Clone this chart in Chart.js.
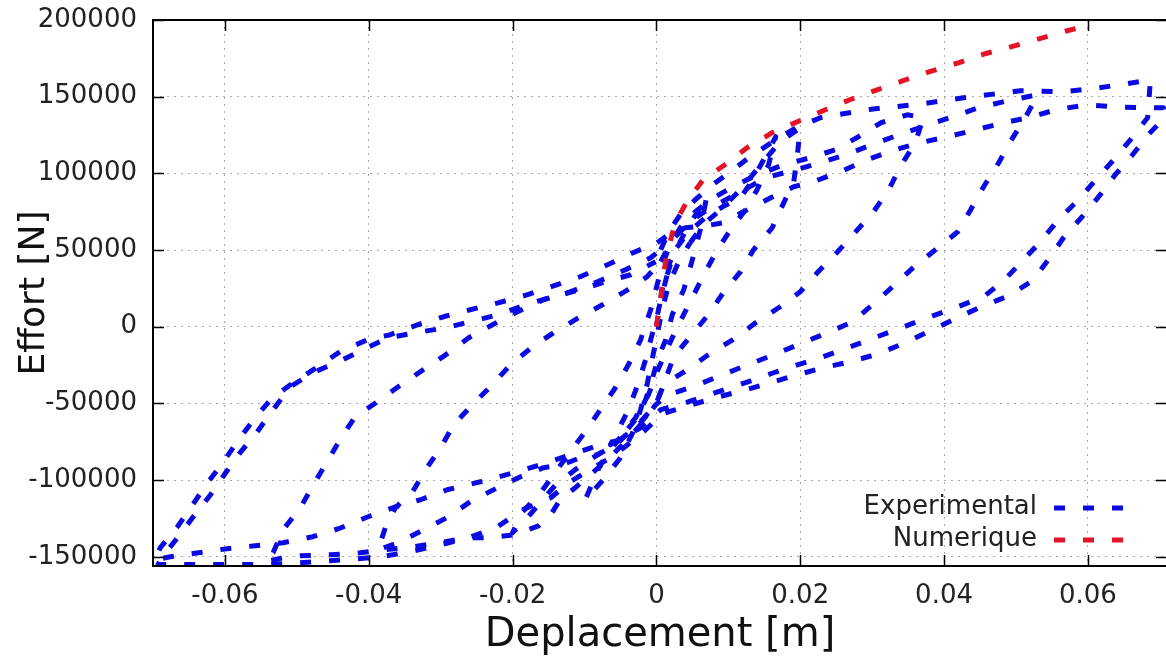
<!DOCTYPE html>
<html>
<head>
<meta charset="utf-8">
<script src="https://cdn.jsdelivr.net/npm/chart.js@4.4.1/dist/chart.umd.min.js"></script>
<style>
  html, body { margin: 0; padding: 0; background: #fff; overflow: hidden; }
  #wrap { position: absolute; left: 0; top: 0; width: 1172px; height: 657px; }
</style>
</head>
<body>
<div id="wrap"><canvas id="chart"></canvas></div>
<script>
// axis ticks
const xTicks = [-0.06, -0.04, -0.02, 0, 0.02, 0.04, 0.06];
const yTicks = [-150000, -100000, -50000, 0, 50000, 100000, 150000, 200000];
const seriesNames = ['Experimental', 'Numerique'];

// numerical model curve [deplacement m, effort N]
const numerique = [[0,0],[0.0006,18900],[0.0010,35200],[0.0017,51500],[0.0026,67800],[0.0044,82800],[0.0065,95800],[0.0099,106900],[0.0126,116700],[0.0161,126500],[0.0196,133700],[0.0235,141500],[0.0269,148000],[0.0307,154500],[0.0343,160400],[0.0380,166300],[0.0420,172100],[0.0457,178000],[0.0494,182600],[0.0533,187800],[0.0571,193000],[0.0593,195600]];

// experimental cycles, growing amplitude
const cycle1 = [[0,0],[0.0008,24100],[0.0019,42400],[0.0038,60000],[0.0057,75000],[0.0070,84800],[0.0061,63200],[0.0050,43700],[0.0038,24100],[0.0022,7800],[0.0013,-8500],[0.0003,-19600],[-0.0006,-34400],[-0.0015,-47600],[-0.0029,-60600],[-0.0050,-72400],[-0.0064,-76900],[-0.0053,-67200],[-0.0039,-54100],[-0.0026,-37800],[-0.0015,-21500],[-0.0008,-8500],[0,4600],[0.0006,17600],[0.0015,33900]];
const cycle2 = [[0.0015,33900],[0.0026,50200],[0.0045,61900],[0.0068,71100],[0.0092,78200],[0.0117,84100],[0.0134,95800],[0.0149,108900],[0.0166,123900],[0.0156,105600],[0.0140,89300],[0.0124,76300],[0.0103,63200],[0.0085,50200],[0.0068,35900],[0.0054,22800],[0.0040,9800],[0.0026,-3300],[0.0013,-16300],[0.0001,-29300],[-0.0011,-44300],[-0.0029,-59300],[-0.0053,-73700],[-0.0078,-90000],[-0.0099,-112800],[-0.0074,-99800],[-0.0050,-85400],[-0.0033,-69100],[-0.0022,-54100],[-0.0013,-37800],[-0.0006,-21500],[0.0001,-5200],[0.0008,11100],[0.0017,27400],[0.0031,42400],[0.0047,54800]];
const cycle3 = [[0.0047,54800],[0.0065,66500],[0.0089,76300],[0.0117,89300],[0.0145,105600],[0.0172,120600],[0.0200,129700],[0.0196,112100],[0.0191,94500],[0.0177,80800],[0.0161,64500],[0.0135,50200],[0.0117,35900],[0.0093,22200],[0.0072,7800],[0.0047,-6500],[0.0024,-19600],[0.0010,-37800],[-0.0001,-50900],[-0.0022,-62600],[-0.0050,-73700],[-0.0082,-83500],[-0.0113,-93200],[-0.0140,-103000],[-0.0164,-116100],[-0.0182,-125800],[-0.0200,-134300],[-0.0186,-120600],[-0.0161,-108200],[-0.0140,-94500],[-0.0120,-81500],[-0.0099,-68500],[-0.0078,-54100],[-0.0057,-39800],[-0.0039,-24800],[-0.0022,-8500],[-0.0008,11100],[0.0001,27400],[0.0010,42400]];
const cycle4 = [[0.0010,42400],[0.0019,53500],[0.0033,64500],[0.0054,75000],[0.0075,82800],[0.0099,89300],[0.0134,97800],[0.0177,105600],[0.0214,110200],[0.0249,115400],[0.0281,123900],[0.0312,133000],[0.0349,138200],[0.0371,136300],[0.0360,120000],[0.0339,104300],[0.0323,89300],[0.0302,75000],[0.0277,61900],[0.0252,48900],[0.0225,35900],[0.0200,22800],[0.0170,12400],[0.0138,2600],[0.0106,-8500],[0.0072,-18300],[0.0043,-28000],[0.0010,-37800],[-0.0001,-50900],[-0.0026,-63900],[-0.0057,-76900],[-0.0082,-83500],[-0.0106,-85400],[-0.0131,-90000],[-0.0157,-91900],[-0.0189,-97800],[-0.0221,-105000],[-0.0259,-114100],[-0.0289,-123900],[-0.0324,-132400],[-0.0359,-140800],[-0.0387,-145400],[-0.0377,-131100],[-0.0363,-118000],[-0.0339,-107600],[-0.0321,-93200],[-0.0300,-78900],[-0.0282,-63900],[-0.0256,-50900],[-0.0228,-37800],[-0.0203,-24800],[-0.0172,-13000],[-0.0143,-3900],[-0.0108,5900],[-0.0075,14300],[-0.0040,24100],[-0.0013,32600],[0.0006,42400]];
const cycle5 = [[0.0006,42400],[0.0022,56700],[0.0047,68500],[0.0075,77600],[0.0110,86100],[0.0152,97200],[0.0194,102400],[0.0228,106900],[0.0263,112100],[0.0300,118700],[0.0337,125200],[0.0374,131000],[0.0412,136900],[0.0448,142800],[0.0488,147300],[0.0530,151300],[0.0513,136300],[0.0492,120600],[0.0476,106900],[0.0455,91300],[0.0437,76300],[0.0419,61900],[0.0388,50200],[0.0357,38500],[0.0330,26700],[0.0302,15000],[0.0273,3300],[0.0238,-3900],[0.0200,-11100],[0.0163,-18300],[0.0127,-24800],[0.0092,-31300],[0.0054,-38500],[0.0017,-44300],[-0.0001,-50900],[-0.0022,-63900],[-0.0047,-76900],[-0.0071,-88000],[-0.0092,-96500],[-0.0113,-105000],[-0.0134,-112800],[-0.0147,-122600],[-0.0164,-129800],[-0.0196,-135600],[-0.0235,-137600],[-0.0263,-137600],[-0.0300,-140800],[-0.0338,-143400],[-0.0377,-145400],[-0.0412,-147400],[-0.0453,-148700],[-0.0495,-149300],[-0.0519,-150600],[-0.0544,-153200],[-0.0533,-147400],[-0.0519,-132400],[-0.0495,-118000],[-0.0477,-103000],[-0.0458,-88000],[-0.0440,-73700],[-0.0419,-58700],[-0.0388,-48900],[-0.0359,-39100],[-0.0324,-28000],[-0.0293,-18300],[-0.0261,-7200],[-0.0228,1300],[-0.0196,9100],[-0.0157,17600],[-0.0120,22800],[-0.0082,29300],[-0.0043,37200],[-0.0008,45000],[0.0006,50200]];
const cycle6 = [[0.0006,50200],[0.0017,61900],[0.0033,73000],[0.0054,82800],[0.0078,92600],[0.0103,101100],[0.0134,112100],[0.0166,121900],[0.0194,129700],[0.0228,136300],[0.0293,141500],[0.0370,145400],[0.0427,149300],[0.0506,153900],[0.0566,153200],[0.0606,155200],[0.0645,157800],[0.0687,161000],[0.0683,136300],[0.0659,121900],[0.0636,108900],[0.0611,95800],[0.0587,82800],[0.0559,69800],[0.0534,55400],[0.0509,43000],[0.0483,30000],[0.0455,19600],[0.0419,13000],[0.0381,6500],[0.0344,0],[0.0307,-6500],[0.0270,-13000],[0.0232,-19600],[0.0196,-24800],[0.0163,-30000],[0.0124,-36500],[0.0082,-43000],[0.0045,-48900],[0.0006,-54100],[-0.0022,-65900],[-0.0050,-73700],[-0.0082,-77600],[-0.0120,-83500],[-0.0161,-90000],[-0.0203,-95800],[-0.0245,-101100],[-0.0291,-106300],[-0.0328,-112800],[-0.0363,-117400],[-0.0401,-123900],[-0.0442,-131700],[-0.0478,-136900],[-0.0519,-140800],[-0.0558,-142800],[-0.0597,-144700],[-0.0637,-147400],[-0.0676,-150000],[-0.0697,-151900],[-0.0690,-144100],[-0.0666,-130400],[-0.0645,-116100],[-0.0624,-101700],[-0.0602,-88000],[-0.0581,-73700],[-0.0558,-59300],[-0.0534,-46300],[-0.0505,-36500],[-0.0477,-28000],[-0.0440,-16300],[-0.0402,-8500],[-0.0370,-5200],[-0.0332,1300],[-0.0296,6500],[-0.0259,11100],[-0.0220,15600],[-0.0179,20900],[-0.0143,26700],[-0.0106,32600],[-0.0068,40400],[-0.0033,48200],[0.0001,54800]];
const cycle7 = [[0.0001,54800],[0.0017,60000],[0.0040,64500],[0.0068,65800],[0.0093,67800],[0.0121,75000],[0.0159,84100],[0.0191,91300],[0.0218,94500],[0.0256,101100],[0.0293,108900],[0.0332,115400],[0.0367,120000],[0.0405,123900],[0.0444,128400],[0.0483,133000],[0.0523,136900],[0.0555,141500],[0.0599,144700],[0.0638,143400],[0.0677,142800],[0.0705,142800],[0.0701,133700],[0.0684,125200],[0.0662,112100],[0.0638,99100],[0.0615,84800],[0.0592,71700],[0.0566,58000],[0.0545,43700],[0.0523,30000],[0.0490,20200],[0.0451,13000],[0.0419,5900],[0.0381,-2600],[0.0346,-10400],[0.0309,-17600],[0.0270,-22800],[0.0232,-26700],[0.0196,-31300],[0.0163,-35900],[0.0124,-41100],[0.0082,-46300],[0.0045,-51500],[0.0008,-56700],[-0.0015,-67200],[-0.0040,-76900],[-0.0064,-85400],[-0.0092,-93200],[-0.0120,-101100],[-0.0147,-111500],[-0.0186,-119300],[-0.0221,-130400],[-0.0261,-137600],[-0.0300,-142100],[-0.0342,-146700],[-0.0384,-150000],[-0.0433,-151900],[-0.0474,-153200],[-0.0516,-154500],[-0.0558,-155000],[-0.0606,-155000],[-0.0662,-155000],[-0.0693,-155000],[-0.0687,-150000],[-0.0666,-137600],[-0.0644,-123900],[-0.0620,-109500],[-0.0599,-95200],[-0.0579,-82200],[-0.0555,-68500],[-0.0533,-54100],[-0.0509,-39100],[-0.0478,-30000],[-0.0442,-22800],[-0.0408,-15000],[-0.0373,-7200],[-0.0335,-3900],[-0.0293,-700],[-0.0259,3300],[-0.0220,7800],[-0.0182,14300],[-0.0143,19600],[-0.0106,24100],[-0.0071,29300],[-0.0036,33900],[-0.0001,42400]];

const BLUE = 'rgb(10,10,225)';
const RED = 'rgb(228,20,40)';
const DASH = [11, 18];
const TXT = '#222';

const toPts = arr => arr.map(([x, y]) => ({ x, y }));
const lineStyle = (color, order) => ({
    showLine: true, borderColor: color, borderWidth: 5, borderDash: DASH,
    borderCapStyle: 'butt', borderJoinStyle: 'round', pointRadius: 0, pointHoverRadius: 0,
    fill: false, tension: 0, order
});

const datasets = [
    { label: seriesNames[1], data: toPts(numerique), ...lineStyle(RED, 0) },
    ...[cycle1, cycle2, cycle3, cycle4, cycle5, cycle6, cycle7].map(c => ({
        label: seriesNames[0], data: toPts(c), ...lineStyle(BLUE, 1)
    }))
];

// gnuplot-like frame: inner ticks, border, key at bottom right
const frame = {
    id: 'frame',
    afterDraw(chart) {
        const { ctx, chartArea: a, scales: { x, y } } = chart;
        ctx.save();
        ctx.strokeStyle = '#000';
        ctx.lineWidth = 1.5;
        ctx.setLineDash([]);
        ctx.beginPath();
        x.ticks.forEach(t => {
            const px = Math.round(x.getPixelForValue(t.value)) + 0.5;
            ctx.moveTo(px, a.bottom); ctx.lineTo(px, a.bottom - 11);
            ctx.moveTo(px, a.top); ctx.lineTo(px, a.top + 11);
        });
        y.ticks.forEach(t => {
            const py = Math.round(y.getPixelForValue(t.value)) + 0.5;
            ctx.moveTo(a.left, py); ctx.lineTo(a.left + 11, py);
            ctx.moveTo(a.right, py); ctx.lineTo(a.right - 11, py);
        });
        ctx.stroke();
        ctx.lineWidth = 2;
        ctx.strokeRect(a.left, a.top, a.right - a.left, a.bottom - a.top);

        // key
        const items = [[seriesNames[0], BLUE], [seriesNames[1], RED]];
        ctx.font = '26px "DejaVu Sans"';
        ctx.textAlign = 'right';
        ctx.textBaseline = 'middle';
        items.forEach(([label, color], i) => {
            const ry = a.bottom - 59 + i * 32;
            ctx.fillStyle = TXT;
            ctx.fillText(label, a.right - 130, ry);
            ctx.strokeStyle = color;
            ctx.lineWidth = 5;
            ctx.setLineDash(DASH);
            ctx.beginPath();
            ctx.moveTo(a.right - 113, ry + 1);
            ctx.lineTo(a.right - 44, ry + 1);
            ctx.stroke();
        });
        ctx.restore();
    }
};

Chart.defaults.font.family = '"DejaVu Sans"';
Chart.defaults.color = TXT;

new Chart(document.getElementById('chart'), {
    type: 'scatter',
    data: { datasets },
    options: {
        responsive: true,
        maintainAspectRatio: false,
        devicePixelRatio: 1,
        animation: false,
        events: [],
        layout: { padding: { top: 20, right: 5, left: 0, bottom: 0 } },
        plugins: { legend: { display: false }, tooltip: { enabled: false } },
        scales: {
            x: {
                type: 'linear', min: -0.07, max: 0.071,
                afterBuildTicks: s => { s.ticks = xTicks.map(v => ({ value: v })); },
                afterFit: s => { s.height = 91; s.paddingLeft = 0; s.paddingRight = 0; },
                ticks: { padding: 15, maxRotation: 0, autoSkip: false, font: { size: 26 }, color: TXT,
                         callback: v => String(v) },
                grid: { color: 'rgba(140,140,140,0.75)', lineWidth: 1, drawTicks: false },
                border: { display: false, dash: [2, 5] },
                title: { display: true, text: 'Deplacement [m]', color: '#111',
                         font: { size: 40, lineHeight: 1 }, padding: { top: 0, bottom: 1 } }
            },
            y: {
                type: 'linear', min: -156000, max: 200000,
                afterBuildTicks: s => { s.ticks = yTicks.map(v => ({ value: v })); },
                afterFit: s => { s.width = 153; s.paddingTop = 0; s.paddingBottom = 0; },
                ticks: { padding: 16, font: { size: 26 }, color: TXT, callback: v => String(v) },
                grid: { color: 'rgba(140,140,140,0.75)', lineWidth: 1, drawTicks: false },
                border: { display: false, dash: [2, 5] },
                title: { display: true, text: 'Effort [N]', color: '#111',
                         font: { size: 36, lineHeight: 1 }, padding: { top: 17, bottom: 0 } }
            }
        }
    },
    plugins: [frame]
});
</script>
</body>
</html>
